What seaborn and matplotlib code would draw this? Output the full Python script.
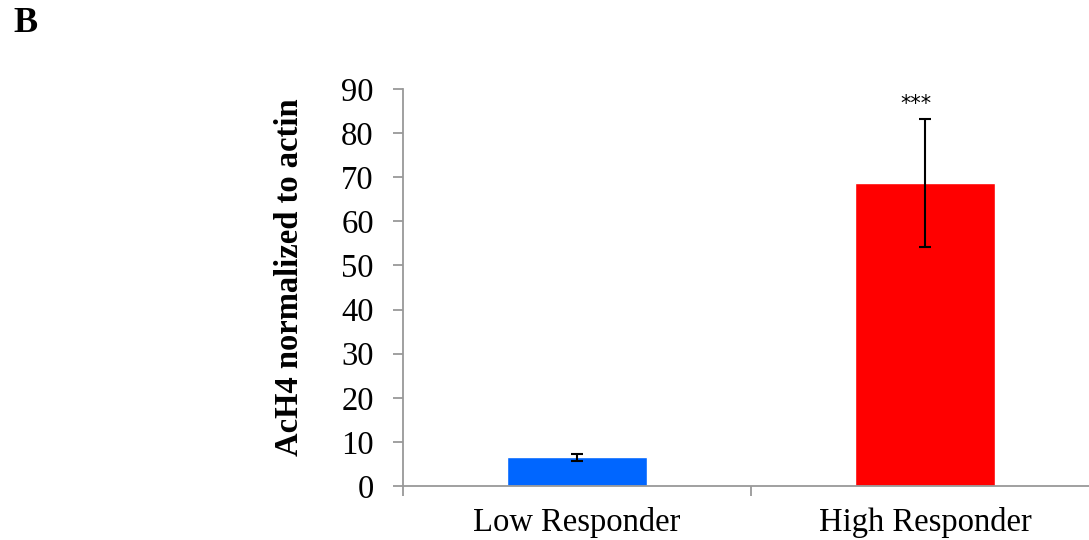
import matplotlib
matplotlib.use("Agg")
import matplotlib.pyplot as plt
import seaborn as sns
import pandas as pd

categories = ["Low Responder", "High Responder"]
values = [6.5, 68.7]
errors = [0.85, 14.6]
colors = ["#0066FF", "#FF0000"]
yticks = [0, 10, 20, 30, 40, 50, 60, 70, 80, 90]
ylabel = "AcH4 normalized to actin"
annotation = "***"
panel = "B"

sns.set_theme(style="white")
plt.rcParams["font.family"] = ["Liberation Serif", "DejaVu Serif"]
plt.rcParams["text.color"] = "black"
plt.rcParams["axes.labelcolor"] = "black"

W, H = 1089, 540
fig = plt.figure(figsize=(W / 100, H / 100), dpi=100)
left, right, bottom, top = 403, 1089, 486, 89
ax = fig.add_axes([left / W, 1 - bottom / H, (right - left) / W, (bottom - top) / H])

df = pd.DataFrame({"cat": categories, "val": values})
sns.barplot(data=df, x="cat", y="val", hue="cat", palette=colors, dodge=False,
            width=0.405, errorbar=None, legend=False, ax=ax, saturation=1)
ax.errorbar(range(len(values)), values, yerr=errors, fmt="none", ecolor="black",
            elinewidth=1.5, capsize=4.3, capthick=1.5)

ax.set_yticks(yticks)
ax.set_yticklabels([str(t) for t in yticks], fontsize=23.5)
ax.set_xticks([-0.5, 0.5, 1.5], minor=False)
ax.set_xticklabels(["", "", ""])
ax.set_xticks([0, 1], minor=True)
ax.set_xticklabels(categories, minor=True, fontsize=23.5)
ax.set_ylim(0, 90)
ax.set_xlim(-0.5, -0.5 + (right - left) / 348)
ax.tick_params(axis="x", which="minor", length=0, pad=15, labelcolor="black")
ax.tick_params(axis="x", which="major", direction="out", length=7, width=1.3, color="#999999", bottom=True)
ax.tick_params(axis="y", direction="out", length=7, width=1.3, color="#999999", left=True, pad=14,
               labelcolor="black")
for s in ["top", "right"]:
    ax.spines[s].set_visible(False)
for s in ["left", "bottom"]:
    ax.spines[s].set_color("#999999")
    ax.spines[s].set_linewidth(1.3)
ax.set_xlabel("")
ax.set_ylabel(ylabel, fontsize=23.5, fontweight="bold", color="black")
ax.yaxis.set_label_coords(-0.143, 0.525)

ax.text(1 - 0.026, 86.6, annotation, ha="center", va="center", fontsize=15,
        family="DejaVu Sans", color="black")
fig.text(26 / W, 1 - 24 / H, panel, fontsize=26, fontweight="bold", va="center", ha="center",
         color="black")

fig.savefig("out.png", dpi=100)
